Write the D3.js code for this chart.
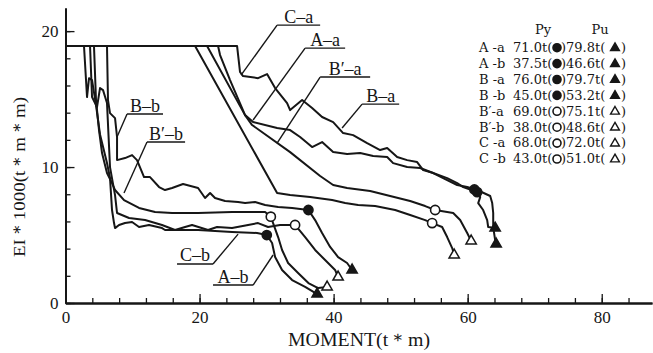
<!DOCTYPE html>
<html><head><meta charset="utf-8">
<script src="https://cdn.jsdelivr.net/npm/d3@7"></script>
<style>html,body{margin:0;padding:0;background:#fff;} svg{display:block;}</style>
</head><body>
<svg id="chart" width="653" height="353"></svg>
<script>
// Specimens and their yield / ultimate loads (table at upper right)
const seriesNames = ["A -a", "A -b", "B -a", "B -b", "B\u2032-a", "B\u2032-b", "C -a", "C -b"];
const pyLoads = ["71.0", "37.5", "76.0", "45.0", "69.0", "38.0", "68.0", "43.0"];
const puLoads = ["79.8", "46.6", "79.7", "53.2", "75.1", "48.6", "72.0", "51.0"];
const solidMarks = [true, true, true, true, false, false, false, false];

// EI*1000 vs moment curves: [moment (t*m), EI*1000 (t*m*m)]
const curveAa = [[0,18.9],[22.76,18.9],[23.06,18.24],[24.55,16.40],[26.79,13.82],[27.99,13.31],[31.57,12.87],[33.51,12.72],[35.0,12.21],[36.79,11.47],[38.28,11.84],[39.93,11.10],[42.01,10.96],[43.96,11.03],[45.90,10.81],[47.99,10.74],[48.88,10.29],[50.97,10.0],[52.91,9.93],[54.85,9.56],[56.94,9.04],[58.43,8.68],[59.93,8.53],[61.42,8.31],[63.36,7.87],[63.66,7.35],[63.81,6.62],[63.81,5.59],[64.10,4.63],[64.25,4.34]];
const curveAb = [[0,18.9],[2.76,18.9],[3.21,15.15],[3.51,16.54],[3.96,16.40],[4.55,14.56],[5.15,12.4],[6.19,10.3],[6.64,9.2],[6.94,6.84],[7.24,5.88],[7.39,5.51],[7.99,5.74],[8.88,5.88],[9.93,5.96],[10.97,5.59],[12.46,5.74],[14.40,5.51],[14.85,5.37],[19.78,5.37],[24.85,5.22],[28.58,5.15],[30.03,5.0],[30.82,4.41],[31.27,3.38],[32.31,2.43],[33.81,1.69],[35.75,1.18],[37.24,0.74],[37.54,0.66]];
const curveBa = [[0,18.9],[25.6,18.9],[26.04,16.99],[26.49,16.69],[28.73,16.54],[30.07,16.84],[31.27,15.81],[33.06,14.71],[33.51,14.19],[35.30,14.93],[36.79,14.34],[38.28,13.68],[39.93,13.31],[41.42,12.50],[42.91,12.35],[45.0,11.76],[46.94,11.25],[47.99,11.40],[49.48,10.74],[50.97,10.51],[52.46,10.37],[53.36,9.78],[54.85,9.56],[56.94,9.19],[58.43,8.82],[59.33,8.53],[61.42,8.16],[61.87,7.79],[61.57,7.35],[62.31,6.84],[62.91,6.10],[63.06,5.59],[64.10,5.51]];
const curveBb = [[0,18.9],[6.19,18.9],[6.34,14.93],[6.64,13.97],[7.39,13.60],[7.69,12.21],[7.69,10.51],[8.88,10.66],[9.93,10.88],[10.67,10.51],[11.72,9.26],[12.61,9.26],[13.96,8.53],[14.85,8.31],[15.90,8.46],[17.54,8.75],[19.78,8.46],[20.82,7.72],[21.57,8.09],[22.31,7.72],[23.81,7.50],[25.75,7.43],[26.79,7.35],[28.28,7.43],[29.78,7.21],[31.72,7.06],[33.81,6.99],[36.24,6.84],[37.24,6.10],[38.28,5.15],[39.48,4.12],[40.67,3.38],[42.01,2.94],[42.76,2.43]];
const curveBpa = [[0,18.9],[21.12,18.9],[26.79,13.82],[27.84,13.09],[33.51,11.10],[37.99,9.34],[39.93,8.68],[42.01,8.46],[45.45,8.24],[48.43,7.87],[51.42,7.50],[53.66,7.13],[55.15,6.84],[57.84,6.62],[58.88,6.10],[59.93,5.15],[60.52,4.56]];
const curveBpb = [[0,18.9],[4.25,18.9],[4.55,14.93],[5.0,12.72],[5.45,11.03],[6.19,9.56],[6.94,8.82],[7.39,8.31],[8.73,7.57],[10.97,6.99],[13.36,6.69],[15.90,6.62],[19.78,6.62],[24.85,6.69],[29.78,6.69],[30.63,6.35],[30.97,5.88],[31.72,4.85],[32.31,3.90],[33.21,2.94],[34.70,2.21],[36.24,1.47],[37.69,1.10],[39.03,1.18]];
const curveCa = [[0,18.9],[19.33,18.9],[31.57,8.09],[33.51,7.94],[36.49,7.79],[39.78,7.57],[41.72,7.35],[43.66,7.21],[46.19,7.13],[49.18,6.84],[51.42,6.47],[53.66,6.10],[54.70,5.88],[56.19,5.59],[56.94,4.85],[57.69,4.04],[57.99,3.53]];
const curveCb = [[0,18.9],[3.66,18.9],[3.96,15.15],[4.70,14.41],[5.15,15.81],[5.60,15.66],[6.19,14.71],[6.64,10.0],[7.39,7.94],[7.69,6.62],[9.48,6.25],[11.87,6.10],[14.40,5.74],[16.34,5.37],[17.84,5.59],[18.88,5.74],[21.27,5.37],[22.61,5.59],[24.85,5.51],[27.24,5.74],[28.73,5.88],[30.22,5.59],[32.01,5.74],[34.25,5.74],[35.75,4.85],[37.24,3.90],[38.73,3.16],[40.22,2.43],[40.67,1.91]];
const curves = [curveAa, curveAb, curveBa, curveBb, curveBpa, curveBpb, curveCa, curveCb];

// Yield (circle) and ultimate (triangle) points on each curve
const pyPoints = [[61.0,8.35],[30.03,5.0],[61.42,8.16],[36.24,6.84],[55.15,6.84],[30.63,6.35],[54.70,5.88],[34.25,5.74]];
const puPoints = [[64.25,4.34],[37.54,0.66],[64.10,5.51],[42.76,2.43],[60.52,4.56],[39.03,1.18],[57.99,3.53],[40.67,1.91]];

// Axis ticks
const xMajorTicks = [0, 20, 40, 60, 80];
const xMinorTicks = [0,4,8,12,16,20,24,28,32,36,40,44,48,52,56,60,64,68,72,76,80,84];
const yMajorTicks = [0, 10, 20];
const yMinorTicks = [0,2,4,6,8,10,12,14,16,18,20];

// Curve call-out labels: underline from x1 to x2 at y, leader to (tx, ty)
const calloutText = ["C\u2013a","A\u2013a","B\u2032\u2013a","B\u2013a","B\u2013b","B\u2032\u2013b","C\u2013b","A\u2013b"];
const calloutLine = [[31.57,37.99,20.44],[35.75,41.72,18.75],[37.99,45.45,16.62],[44.25,49.78,14.63],[9.18,14.55,13.90],[12.16,17.84,11.84],[16.64,22.01,2.87],[22.01,27.99,1.32]];
const calloutTarget = [[26.19,16.76],[27.99,13.46],[31.57,11.76],[41.27,12.87],[7.69,12.21],[8.73,8.09],[25.75,5.07],[30.97,3.53]];

const ink = "#161616";
const svg = d3.select("#chart");
const x = d3.scaleLinear().domain([0, 87.5]).range([65.5, 652]);
const y = d3.scaleLinear().domain([0, 21.7]).range([303, 8]);

// axes (ticks point into the plot)
function styleAxis(g, w) {
  g.select(".domain").attr("stroke", ink).attr("stroke-width", w);
  g.selectAll(".tick line").attr("stroke", ink).attr("stroke-width", 1.3);
  g.selectAll("text").attr("fill", ink).attr("font-family", "'Liberation Serif', serif").attr("font-size", 17);
}
svg.append("g").attr("transform", "translate(0,303)")
  .call(d3.axisBottom(x).tickValues(xMinorTicks).tickSize(-5).tickSizeOuter(0).tickFormat(""))
  .call(g => styleAxis(g, 2));
svg.append("g").attr("transform", "translate(0,303)")
  .call(d3.axisBottom(x).tickValues(xMajorTicks).tickSize(-9).tickSizeOuter(0).tickPadding(8).tickFormat(d3.format("d")))
  .call(g => styleAxis(g, 2));
svg.append("g").attr("transform", "translate(65.5,0)")
  .call(d3.axisLeft(y).tickValues(yMinorTicks).tickSize(-5).tickSizeOuter(0).tickFormat(""))
  .call(g => styleAxis(g, 2));
svg.append("g").attr("transform", "translate(65.5,0)")
  .call(d3.axisLeft(y).tickValues(yMajorTicks).tickSize(-9).tickSizeOuter(0).tickPadding(7).tickFormat(d3.format("d")))
  .call(g => styleAxis(g, 2));

// axis titles
svg.append("text").attr("x", 288).attr("y", 346)
  .attr("textLength", 142).attr("lengthAdjust", "spacingAndGlyphs")
  .attr("font-family", "'Liberation Serif', serif").attr("font-size", 18).attr("fill", ink)
  .text("MOMENT(t\uFF0Am)");
svg.append("text").attr("transform", "translate(25,257) rotate(-90)")
  .attr("textLength", 160).attr("lengthAdjust", "spacingAndGlyphs")
  .attr("font-family", "'Liberation Serif', serif").attr("font-size", 17).attr("fill", ink)
  .text("EI\uFF0A1000(t\uFF0Am\uFF0Am)");

// curves
const line = d3.line().x(d => x(d[0])).y(d => y(d[1]));
svg.append("g").selectAll("path").data(curves).join("path")
  .attr("d", line).attr("fill", "none").attr("stroke", ink)
  .attr("stroke-width", 2).attr("stroke-linejoin", "round");

// yield and ultimate markers
svg.append("g").selectAll("circle").data(pyPoints).join("circle")
  .attr("cx", d => x(d[0])).attr("cy", d => y(d[1])).attr("r", 4.6)
  .attr("fill", (d, i) => solidMarks[i] ? ink : "#fff")
  .attr("stroke", ink).attr("stroke-width", 1.6);
const tri = d3.symbol().type(d3.symbolTriangle).size(46);
svg.append("g").selectAll("path").data(puPoints).join("path")
  .attr("transform", d => `translate(${x(d[0])},${y(d[1])})`).attr("d", tri)
  .attr("fill", (d, i) => solidMarks[i] ? ink : "#fff")
  .attr("stroke", ink).attr("stroke-width", 1.5);

// call-out labels
const co = svg.append("g");
calloutText.forEach((t, i) => {
  const [x1, x2, yy] = calloutLine[i];
  const [tx, ty] = calloutTarget[i];
  const sx = tx > x2 ? x2 : x1;
  co.append("line").attr("x1", x(x1)).attr("x2", x(x2)).attr("y1", y(yy)).attr("y2", y(yy))
    .attr("stroke", ink).attr("stroke-width", 1.4);
  co.append("line").attr("x1", x(sx)).attr("y1", y(yy)).attr("x2", x(tx)).attr("y2", y(ty))
    .attr("stroke", ink).attr("stroke-width", 1.4);
  co.append("text").attr("x", (x(x1) + x(x2)) / 2).attr("y", y(yy) - 2.5)
    .attr("text-anchor", "middle").attr("font-family", "'Liberation Serif', serif")
    .attr("font-size", 18).attr("fill", ink).text(t);
});

// load table
const lg = svg.append("g").attr("font-family", "'DejaVu Serif', serif").attr("font-size", 13).attr("fill", ink);
lg.append("text").attr("x", 543).attr("y", 34).attr("text-anchor", "middle").text("Py");
lg.append("text").attr("x", 600).attr("y", 34).attr("text-anchor", "middle").text("Pu");
const triSmall = d3.symbol().type(d3.symbolTriangle).size(34);
seriesNames.forEach((n, i) => {
  const by = 52 + i * 15.9;
  lg.append("text").attr("x", 479).attr("y", by).text(n);
  lg.append("text").attr("x", 513).attr("y", by).text(pyLoads[i] + "t(");
  lg.append("circle").attr("cx", 557).attr("cy", by - 4.3).attr("r", 4)
    .attr("fill", solidMarks[i] ? ink : "#fff").attr("stroke", ink).attr("stroke-width", 1.6);
  lg.append("text").attr("x", 561).attr("y", by).text(")" + puLoads[i] + "t(");
  lg.append("path").attr("transform", `translate(615,${by - 4})`).attr("d", triSmall)
    .attr("fill", solidMarks[i] ? ink : "#fff").attr("stroke", ink).attr("stroke-width", 1.4);
  lg.append("text").attr("x", 621).attr("y", by).text(")");
});
</script>
</body></html>
